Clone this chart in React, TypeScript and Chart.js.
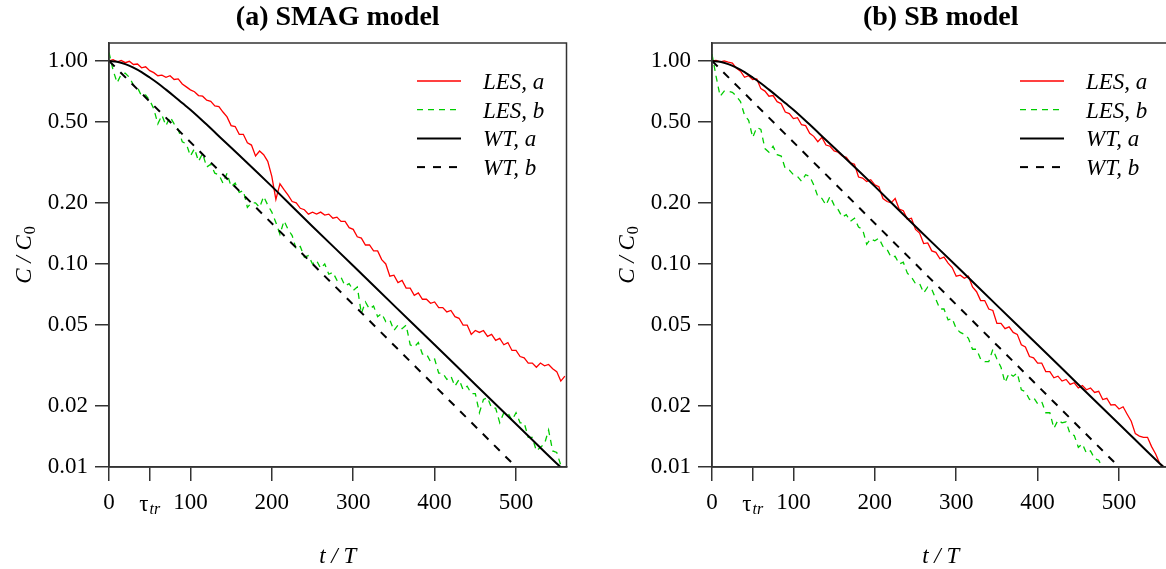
import React, { useEffect, useRef } from 'react';
import { Chart, registerables } from 'chart.js';
Chart.register(...registerables);

const FONT = "'Liberation Serif', 'Times New Roman', serif";

const T_LES = [0,5,10,15,20,25,30,35,40,45,50,55,60,65,70,75,80,85,90,95,100,105,110,115,120,125,130,135,140,145,150,155,160,165,170,175,180,185,190,195,200,205,210,215,220,225,230,235,240,245,250,255,260,265,270,275,280,285,290,295,300,305,310,315,320,325,330,335,340,345,350,355,360,365,370,375,380,385,390,395,400,405,410,415,420,425,430,435,440,445,450,455,460,465,470,475,480,485,490,495,500,505,510,515,520,525,530,535,540,545,550,555,560];

// (a) SMAG model
const SMAG_LES_A = [
  1.00,1.015,0.99,1.005,0.98,0.995,0.96,0.965,0.925,0.935,0.895,0.875,0.845,0.85,0.83,0.845,0.81,0.815,0.77,0.745,
  0.72,0.705,0.675,0.67,0.64,0.632,0.60,0.595,0.56,0.53,0.48,0.475,0.435,0.435,0.395,0.385,0.34,0.36,0.345,0.32,
  0.27,0.208,0.248,0.232,0.218,0.203,0.2,0.188,0.185,0.176,0.18,0.176,0.18,0.174,0.176,0.168,0.17,0.162,0.162,0.151,
  0.148,0.136,0.134,0.124,0.124,0.116,0.116,0.105,0.1,0.087,0.088,0.081,0.083,0.076,0.076,0.07,0.072,0.067,0.067,0.064,
  0.065,0.061,0.061,0.058,0.059,0.055,0.054,0.05,0.05,0.045,0.047,0.046,0.047,0.044,0.045,0.042,0.043,0.04,0.041,0.0375,
  0.0375,0.035,0.0345,0.0325,0.0325,0.031,0.0325,0.0315,0.032,0.0305,0.0295,0.0265,0.028
];
const SMAG_LES_B = [
  1.10,0.90,0.78,0.86,0.87,0.83,0.76,0.74,0.67,0.68,0.64,0.58,0.49,0.54,0.48,0.53,0.49,0.46,0.40,0.39,
  0.34,0.37,0.32,0.35,0.30,0.31,0.28,0.275,0.25,0.28,0.24,0.25,0.225,0.23,0.19,0.2,0.2,0.19,0.215,0.195,
  0.18,0.16,0.14,0.163,0.148,0.138,0.118,0.122,0.108,0.11,0.1,0.104,0.095,0.1,0.089,0.091,0.083,0.086,0.078,0.08,
  0.074,0.077,0.057,0.065,0.06,0.062,0.055,0.057,0.052,0.053,0.047,0.05,0.048,0.05,0.04,0.039,0.041,0.036,0.036,0.033,
  0.034,0.029,0.029,0.027,0.028,0.025,0.027,0.024,0.025,0.023,0.023,0.0185,0.0215,0.022,0.0195,0.0195,0.0165,0.0185,0.0185,0.017,
  0.0185,0.0165,0.0165,0.014,0.014,0.012,0.0125,0.013,0.0152,0.012,0.0118,0.0102,0.0098
];

// (b) SB model
const SB_LES_A = [
  1.00,1.005,0.99,1.0,0.985,0.975,0.92,0.89,0.83,0.845,0.81,0.815,0.73,0.71,0.67,0.675,0.63,0.615,0.56,0.55,
  0.52,0.525,0.485,0.48,0.44,0.425,0.40,0.42,0.385,0.38,0.36,0.355,0.34,0.335,0.315,0.31,0.268,0.265,0.255,0.26,
  0.245,0.24,0.21,0.203,0.2,0.21,0.186,0.183,0.166,0.168,0.148,0.142,0.126,0.127,0.116,0.114,0.106,0.108,0.101,0.096,
  0.087,0.088,0.085,0.087,0.077,0.073,0.066,0.066,0.06,0.059,0.051,0.051,0.048,0.049,0.046,0.045,0.04,0.039,0.035,0.0345,
  0.0325,0.0325,0.0295,0.0295,0.0275,0.028,0.0265,0.027,0.0255,0.026,0.0245,0.0252,0.024,0.0245,0.0233,0.0236,0.0215,0.0218,0.0202,0.0203,
  0.0193,0.0198,0.0182,0.0168,0.0146,0.0142,0.014,0.014,0.0126,0.0116,0.0104,0.01,0.0095
];
const SB_LES_B = [
  1.08,0.84,0.67,0.71,0.71,0.70,0.67,0.63,0.54,0.51,0.42,0.47,0.46,0.37,0.355,0.38,0.345,0.34,0.295,0.29,
  0.275,0.27,0.255,0.275,0.27,0.245,0.215,0.21,0.195,0.215,0.195,0.185,0.17,0.175,0.162,0.168,0.152,0.148,0.125,0.133,
  0.13,0.134,0.122,0.118,0.108,0.109,0.1,0.102,0.09,0.086,0.08,0.08,0.072,0.077,0.075,0.067,0.06,0.06,0.053,0.054,
  0.048,0.046,0.045,0.043,0.038,0.038,0.034,0.033,0.033,0.038,0.034,0.031,0.026,0.029,0.028,0.029,0.024,0.0235,0.0215,0.022,
  0.0205,0.021,0.0185,0.0185,0.0155,0.017,0.0165,0.0167,0.0145,0.0143,0.0125,0.013,0.0117,0.012,0.011,0.0108,0.0099,0.0098,0.0093
];

// WT (theory) curves
const T_WT_A = [0,10,20,30,40,50,60,70,80,90,100,120,140,160,180,200,250,300,350,400,450,500,550,562];
const WT_A = [1.00,0.99,0.964,0.926,0.88,0.828,0.776,0.722,0.67,0.62,0.575,0.486,0.408,0.343,0.288,0.241,0.153,0.098,0.0625,0.040,0.0255,0.0163,0.0104,0.0094];
const T_WT_B = [0, 500];
const WT_B = [1.0, 0.01];

const X_TICKS = [0, 50, 100, 200, 300, 400, 500];
const Y_TICKS = [0.01, 0.02, 0.05, 0.1, 0.2, 0.5, 1.0];
const LEGEND = ['LES, a', 'LES, b', 'WT, a', 'WT, b'];

const RED = '#ff0000';
const GREEN = '#00cc00';
const AXIS = '#333333';

const toXY = (ts: number[], vs: number[]) => vs.map((v, i) => ({ x: ts[i], y: v }));

function makeDecor(title: string) {
  return {
    id: 'decor',
    afterDraw(chart: any) {
      const { ctx, chartArea } = chart;
      const { left, right, top, bottom } = chartArea;
      const xs = chart.scales.x;
      ctx.save();
      // box
      ctx.strokeStyle = AXIS;
      ctx.lineWidth = 1.5;
      ctx.setLineDash([]);
      ctx.strokeRect(left, top, right - left, bottom - top);
      // title
      ctx.fillStyle = '#000';
      ctx.font = `bold 28px ${FONT}`;
      ctx.textAlign = 'center';
      ctx.textBaseline = 'alphabetic';
      ctx.fillText(title, (left + right) / 2, 25);
      // x title
      ctx.font = `italic 23px ${FONT}`;
      ctx.fillText('t / T', (left + right) / 2, 563);
      // tau_tr tick label
      const tx = xs.getPixelForValue(50);
      ctx.font = `23px ${FONT}`;
      const wTau = ctx.measureText('τ').width;
      ctx.font = `italic 16px ${FONT}`;
      const wTr = ctx.measureText('tr').width;
      const start = tx - (wTau + wTr + 1) / 2;
      ctx.textAlign = 'left';
      ctx.font = `23px ${FONT}`;
      ctx.fillText('τ', start, 511);
      ctx.font = `italic 16px ${FONT}`;
      ctx.fillText('tr', start + wTau + 1, 514);
      // legend
      const items = [
        { c: RED, d: [], w: 1.3 },
        { c: GREEN, d: [6, 5], w: 1.3 },
        { c: '#000', d: [], w: 2 },
        { c: '#000', d: [8, 8], w: 2 },
      ];
      items.forEach((it, i) => {
        const y = top + 38 + 28.7 * i;
        ctx.strokeStyle = it.c;
        ctx.lineWidth = it.w;
        ctx.setLineDash(it.d);
        ctx.beginPath();
        ctx.moveTo(left + 308, y);
        ctx.lineTo(left + 352, y);
        ctx.stroke();
        ctx.setLineDash([]);
        ctx.fillStyle = '#000';
        ctx.font = `italic 23px ${FONT}`;
        ctx.textAlign = 'left';
        ctx.fillText(LEGEND[i], left + 374, y + 8);
      });
      // y title (rotated)
      ctx.translate(31, (top + bottom) / 2);
      ctx.rotate(-Math.PI / 2);
      ctx.font = `italic 23px ${FONT}`;
      const w1 = ctx.measureText('C / C').width;
      ctx.font = `16px ${FONT}`;
      const w2 = ctx.measureText('0').width;
      const s = -(w1 + w2 + 1) / 2;
      ctx.font = `italic 23px ${FONT}`;
      ctx.fillText('C / C', s, 0);
      ctx.font = `16px ${FONT}`;
      ctx.fillText('0', s + w1 + 1, 4);
      ctx.restore();
    },
  };
}

function Panel({ title, lesA, lesB, left }: { title: string; lesA: number[]; lesB: number[]; left: number }) {
  const ref = useRef<HTMLCanvasElement | null>(null);
  useEffect(() => {
    const axisGrid = {
      display: true,
      drawOnChartArea: false,
      drawTicks: true,
      tickLength: 14,
      color: AXIS,
      lineWidth: 1.5,
    };
    const chart = new Chart(ref.current as HTMLCanvasElement, {
      type: 'line',
      data: {
        datasets: [
          { label: 'WT, b', data: toXY(T_WT_B, WT_B), borderColor: '#000', borderWidth: 2, borderDash: [8, 8], pointRadius: 0, tension: 0 },
          { label: 'WT, a', data: toXY(T_WT_A, WT_A), borderColor: '#000', borderWidth: 2, pointRadius: 0, cubicInterpolationMode: 'monotone' },
          { label: 'LES, a', data: toXY(T_LES, lesA), borderColor: RED, borderWidth: 1.3, pointRadius: 0, tension: 0 },
          { label: 'LES, b', data: toXY(T_LES, lesB), borderColor: GREEN, borderWidth: 1.3, borderDash: [6, 5], pointRadius: 0, tension: 0 },
        ],
      },
      options: {
        responsive: false,
        animation: false,
        devicePixelRatio: 1,
        layout: { padding: { left: 0, right: 36.5, top: 43, bottom: 0 } },
        plugins: { legend: { display: false }, tooltip: { enabled: false }, title: { display: false } },
        scales: {
          x: {
            type: 'linear',
            min: 0,
            max: 562,
            afterFit: (s: any) => { s.height = 102; },
            afterBuildTicks: (s: any) => { s.ticks = X_TICKS.map((v) => ({ value: v })); },
            ticks: {
              callback: (v: any) => (v === 50 ? '' : String(v)),
              font: { family: FONT, size: 23 },
              color: '#000',
              padding: 8,
              maxRotation: 0,
              autoSkip: false,
            },
            grid: axisGrid,
            border: { display: true, color: AXIS, width: 1.5 },
          },
          y: {
            type: 'logarithmic',
            min: 0.01,
            max: 1.225,
            afterFit: (s: any) => { s.width = 109; },
            afterBuildTicks: (s: any) => { s.ticks = Y_TICKS.map((v) => ({ value: v })); },
            ticks: {
              callback: (v: any) => Number(v).toFixed(2),
              font: { family: FONT, size: 23 },
              color: '#000',
              padding: 7,
              autoSkip: false,
            },
            grid: axisGrid,
            border: { display: true, color: AXIS, width: 1.5 },
          },
        },
      } as any,
      plugins: [makeDecor(title)],
    });
    return () => chart.destroy();
  }, []);
  return (
    <canvas
      ref={ref}
      width={603}
      height={569}
      style={{ position: 'absolute', left, top: 0, width: 603, height: 569 }}
    />
  );
}

export default function App() {
  return (
    <div style={{ position: 'fixed', left: 0, top: 0, width: 1166, height: 569, overflow: 'hidden', background: '#fff' }}>
      <Panel title="(a) SMAG model" lesA={SMAG_LES_A} lesB={SMAG_LES_B} left={0} />
      <Panel title="(b) SB model" lesA={SB_LES_A} lesB={SB_LES_B} left={603} />
    </div>
  );
}
